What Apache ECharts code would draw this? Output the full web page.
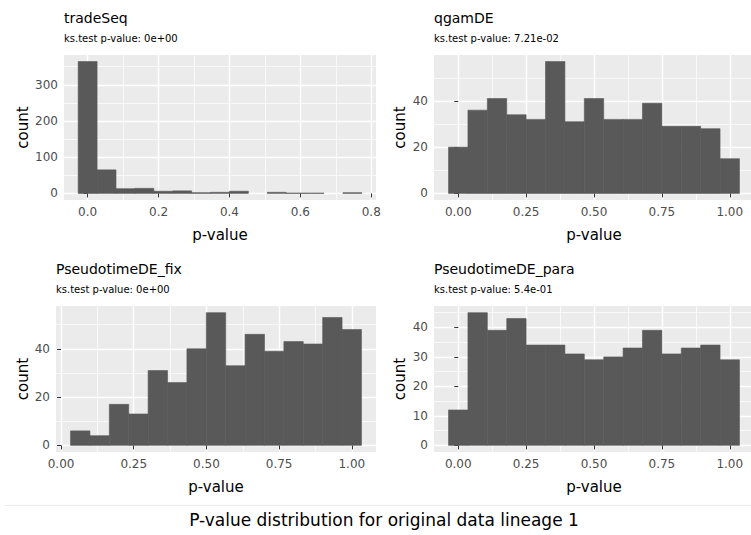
<!DOCTYPE html>
<html>
<head>
<meta charset="utf-8">
<title>P-value distribution</title>
<script src="https://cdn.jsdelivr.net/npm/echarts@6/dist/echarts.min.js"></script>
<style>
  html, body { margin: 0; padding: 0; background: #fff; }
  #main { width: 751px; height: 535px; }
</style>
</head>
<body>
<div id="main"></div>
<script>
// histogram counts, 15 bins each
const tradeSeqCounts = [364, 65, 13, 14, 6, 7, 2, 3, 6, 0, 3, 1, 1, 0, 2]
const qgamDECounts = [20, 36, 41, 34, 32, 57, 31, 41, 32, 32, 39, 29, 29, 28, 15]
const fixCounts = [6, 4, 17, 13, 31, 26, 40, 55, 33, 46, 39, 43, 42, 53, 48]
const paraCounts = [12, 45, 39, 43, 34, 34, 31, 29, 30, 33, 39, 31, 33, 34, 29]

// [first bin centre, bin width]
const tradeSeqBins = [0, 0.8 / 15]
const qgamDEBins = [0, 1 / 14]
const fixBins = [0.066, 0.0667]
const paraBins = [0, 1 / 14]

const panelTitles = ['tradeSeq', 'qgamDE', 'PseudotimeDE_fix', 'PseudotimeDE_para']
const ksValues = ['0e+00', '7.21e-02', '0e+00', '5.4e-01']
const caption = 'P-value distribution for original data lineage 1'

// tick labels
const xTicksShort = [0, 0.2, 0.4, 0.6, 0.8]
const xTicksUnit = [0, 0.25, 0.5, 0.75, 1]
const yTicksTrade = [0, 100, 200, 300]
const yTicksQgam = [0, 20, 40]
const yTicksFix = [0, 20, 40]
const yTicksPara = [0, 10, 20, 30, 40]

const FONT = 'DejaVu Sans'

const panels = [
  { counts: tradeSeqCounts, bins: tradeSeqBins, xTicks: xTicksShort, digits: 1, yTicks: yTicksTrade,
    grid: { left: 64, top: 55, width: 312, height: 145 }, yGap: 34 },
  { counts: qgamDECounts, bins: qgamDEBins, xTicks: xTicksUnit, digits: 2, yTicks: yTicksQgam,
    grid: { left: 434, top: 55, width: 320, height: 145 }, yGap: 27 },
  { counts: fixCounts, bins: fixBins, xTicks: xTicksUnit, digits: 2, yTicks: yTicksFix,
    grid: { left: 56, top: 306, width: 320, height: 146 }, yGap: 26 },
  { counts: paraCounts, bins: paraBins, xTicks: xTicksUnit, digits: 2, yTicks: yTicksPara,
    grid: { left: 434, top: 306, width: 320, height: 146 }, yGap: 27 }
]

// ggplot style 5% expansion
function expand(lo, hi) {
  const pad = (hi - lo) * 0.05
  return [lo - pad, hi + pad]
}

// minor grid lines halfway between the major ones
function minorOf(ticks, range) {
  const step = ticks[1] - ticks[0]
  const out = []
  for (let v = ticks[0] - step / 2; v <= range[1]; v += step) {
    if (v >= range[0]) out.push(+v.toFixed(6))
  }
  return out
}

function renderBar(params, api) {
  if (!api.value(2)) return null // empty bin
  const top = api.coord([api.value(0), api.value(2)])
  const base = api.coord([api.value(1), 0])
  return {
    type: 'rect',
    shape: { x: top[0], y: top[1], width: base[0] - top[0], height: base[1] - top[1] },
    style: { fill: '#595959', stroke: '#595959', lineWidth: 0.6 }
  }
}

const grids = []
const xMain = [], xMinor = [], yMain = [], yMinor = []
const series = []
const titles = []

panels.forEach((p, i) => {
  const [c0, w] = p.bins
  const n = p.counts.length
  const xr = expand(c0 - w / 2, c0 + (n - 0.5) * w)
  const yr = expand(0, Math.max(...p.counts))

  grids.push(Object.assign({
    show: true, backgroundColor: '#EBEBEB', borderWidth: 0, containLabel: false, outerBoundsMode: 'none'
  }, p.grid))

  xMain.push({
    type: 'value', gridIndex: i, min: xr[0], max: xr[1],
    axisLine: { show: false },
    axisTick: { show: true, length: 4, customValues: p.xTicks, lineStyle: { color: '#333333', width: 1 } },
    axisLabel: { customValues: p.xTicks, formatter: v => v.toFixed(p.digits), color: '#4D4D4D', fontSize: 12, fontFamily: FONT, margin: 6 },
    splitLine: { show: true, lineStyle: { color: '#ffffff', width: 1.4 } },
    name: 'p-value', nameLocation: 'middle', nameGap: 27,
    nameTextStyle: { color: '#000', fontSize: 15, fontFamily: FONT }
  })
  xMinor.push({
    type: 'value', gridIndex: i, min: xr[0], max: xr[1],
    axisLine: { show: false },
    axisTick: { show: false, customValues: minorOf(p.xTicks, xr) },
    axisLabel: { show: false },
    splitLine: { show: true, lineStyle: { color: '#ffffff', width: 0.7 } }
  })
  yMain.push({
    type: 'value', gridIndex: i, min: yr[0], max: yr[1],
    axisLine: { show: false },
    axisTick: { show: true, length: 4, customValues: p.yTicks, lineStyle: { color: '#333333', width: 1 } },
    axisLabel: { customValues: p.yTicks, color: '#4D4D4D', fontSize: 12, fontFamily: FONT, margin: 6 },
    splitLine: { show: true, lineStyle: { color: '#ffffff', width: 1.4 } },
    name: 'count', nameLocation: 'middle', nameGap: p.yGap, nameRotate: 90,
    nameTextStyle: { color: '#000', fontSize: 15, fontFamily: FONT }
  })
  yMinor.push({
    type: 'value', gridIndex: i, min: yr[0], max: yr[1],
    axisLine: { show: false },
    axisTick: { show: false, customValues: minorOf(p.yTicks, yr) },
    axisLabel: { show: false },
    splitLine: { show: true, lineStyle: { color: '#ffffff', width: 0.7 } }
  })

  series.push({
    type: 'custom', name: panelTitles[i], xAxisIndex: i, yAxisIndex: i,
    renderItem: renderBar, encode: { x: [0, 1], y: 2 }, clip: true,
    data: p.counts.map((c, k) => [c0 + (k - 0.5) * w, c0 + (k + 0.5) * w, c])
  })

  titles.push({
    text: panelTitles[i], subtext: 'ks.test p-value: ' + ksValues[i],
    left: p.grid.left, top: p.grid.top - 44, padding: 0, itemGap: 8,
    textStyle: { fontSize: 14, fontWeight: 'normal', color: '#000', fontFamily: FONT },
    subtextStyle: { fontSize: 10, color: '#000', fontFamily: FONT }
  })
})

titles.push({
  text: caption, left: 384, textAlign: 'center', top: 511, padding: 0,
  textStyle: { fontSize: 17, fontWeight: 'normal', color: '#000', fontFamily: FONT }
})

const myChart = echarts.init(document.getElementById('main'), null, { renderer: 'svg' })
myChart.setOption({
  backgroundColor: '#ffffff',
  animation: false,
  title: titles,
  grid: grids,
  xAxis: xMain.concat(xMinor),
  yAxis: yMain.concat(yMinor),
  series: series,
  graphic: [{
    type: 'line', shape: { x1: 5, y1: 505.5, x2: 751, y2: 505.5 },
    style: { stroke: '#EBEBEB', lineWidth: 1 }, silent: true
  }]
})
</script>
</body>
</html>
